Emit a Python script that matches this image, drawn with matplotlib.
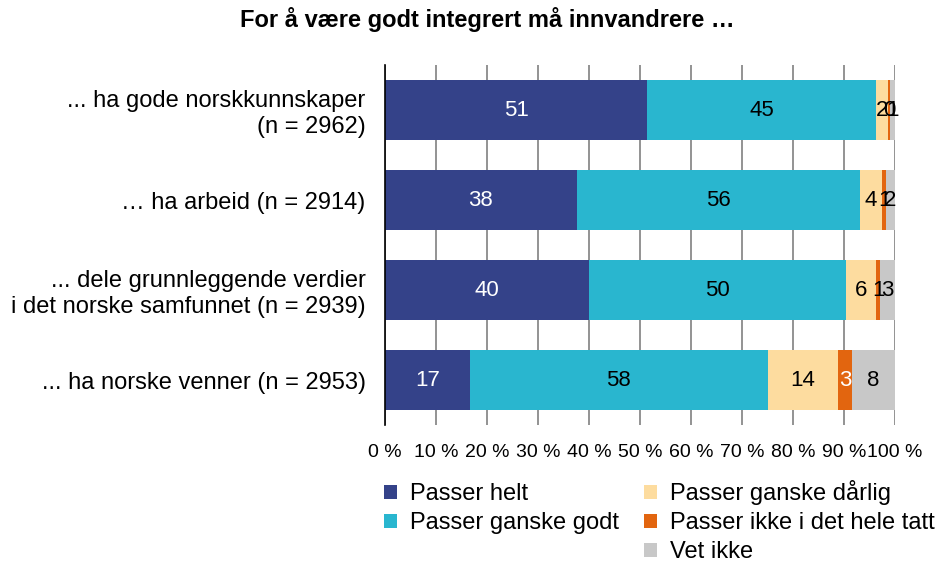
import matplotlib
matplotlib.use("Agg")
import matplotlib.pyplot as plt
from matplotlib.patches import Patch
import numpy as np

plt.rcParams['font.family'] = ['Liberation Sans', 'DejaVu Sans']

categories = ["... ha gode norskkunnskaper\n(n = 2962)",
              "… ha arbeid (n = 2914)",
              "... dele grunnleggende verdier\ni det norske samfunnet (n = 2939)",
              "... ha norske venner (n = 2953)"]
series_names = ["Passer helt", "Passer ganske godt", "Passer ganske dårlig",
                "Passer ikke i det hele tatt", "Vet ikke"]
passer_helt = [51.4, 37.6, 40.0, 16.6]
passer_ganske_godt = [44.9, 55.5, 50.4, 58.4]
passer_ganske_darlig = [2.4, 4.4, 5.9, 13.9]
passer_ikke = [0.4, 0.7, 0.8, 2.7]
vet_ikke = [0.9, 1.8, 2.9, 8.4]
xtick_labels = ["0 %", "10 %", "20 %", "30 %", "40 %", "50 %", "60 %",
                "70 %", "80 %", "90 %", "100 %"]
title = "For å være godt integrert må innvandrere …"

colors = ["#344289", "#29B6CF", "#FDDC9F", "#E2650F", "#C8C8C8"]
label_colors = ["white", "black", "black", "white", "black"]

series = [passer_helt, passer_ganske_godt, passer_ganske_darlig, passer_ikke, vet_ikke]

fig = plt.figure(figsize=(9.42, 5.62), dpi=100)
ax = fig.add_axes([385/942, 1-425/562, 510/942, 360/562])

y = np.arange(len(categories))
left = np.zeros(len(categories))
handles = []
for vals, name, col, lc in zip(series, series_names, colors, label_colors):
    vals = np.array(vals)
    ax.barh(y, vals, left=left, height=0.667, color=col, zorder=3, label=name)
    handles.append(Patch(facecolor=col, edgecolor='none', label=name))
    for yi, (l, v) in enumerate(zip(left, vals)):
        c = lc
        if col == colors[3] and v < 2:
            c = "black"
        ax.text(l + v/2, yi, f"{int(round(v))}", ha='center', va='center',
                color=c, fontsize=16, zorder=4)
    left += vals

ax.set_ylim(3.5, -0.5)
ax.set_xlim(0, 100)
ax.set_xticks(np.arange(0, 101, 10))
ax.set_xticklabels(xtick_labels, fontsize=14)
ax.set_yticks(y)
ax.set_yticklabels(categories, fontsize=17)
ax.tick_params(axis='y', length=0, pad=14)
ax.tick_params(axis='x', length=0, pad=14)
for s in ['top', 'right', 'bottom']:
    ax.spines[s].set_visible(False)
ax.spines['left'].set_color('black')
ax.spines['left'].set_linewidth(1.2)
ax.spines['left'].set_zorder(5)
ax.grid(axis='x', color='#808080', linewidth=1.2, zorder=0)
ax.set_axisbelow(True)

fig.text(487/942, 1-20/562, title, ha='center', va='center', fontsize=17,
         fontweight='bold')

blank = Patch(facecolor='none', edgecolor='none', label='')
leg_handles = [handles[0], handles[1], blank, handles[2], handles[3], handles[4]]
leg = fig.legend(handles=leg_handles, labels=[h.get_label() for h in leg_handles],
                 ncol=2, loc='upper left', bbox_to_anchor=(384/942, 1-480/562),
                 frameon=False, fontsize=17, handlelength=0.55, handleheight=0.55,
                 handletextpad=0.55, columnspacing=1.05, labelspacing=0.3,
                 borderpad=0, borderaxespad=0)

fig.savefig("out.png", dpi=100)
